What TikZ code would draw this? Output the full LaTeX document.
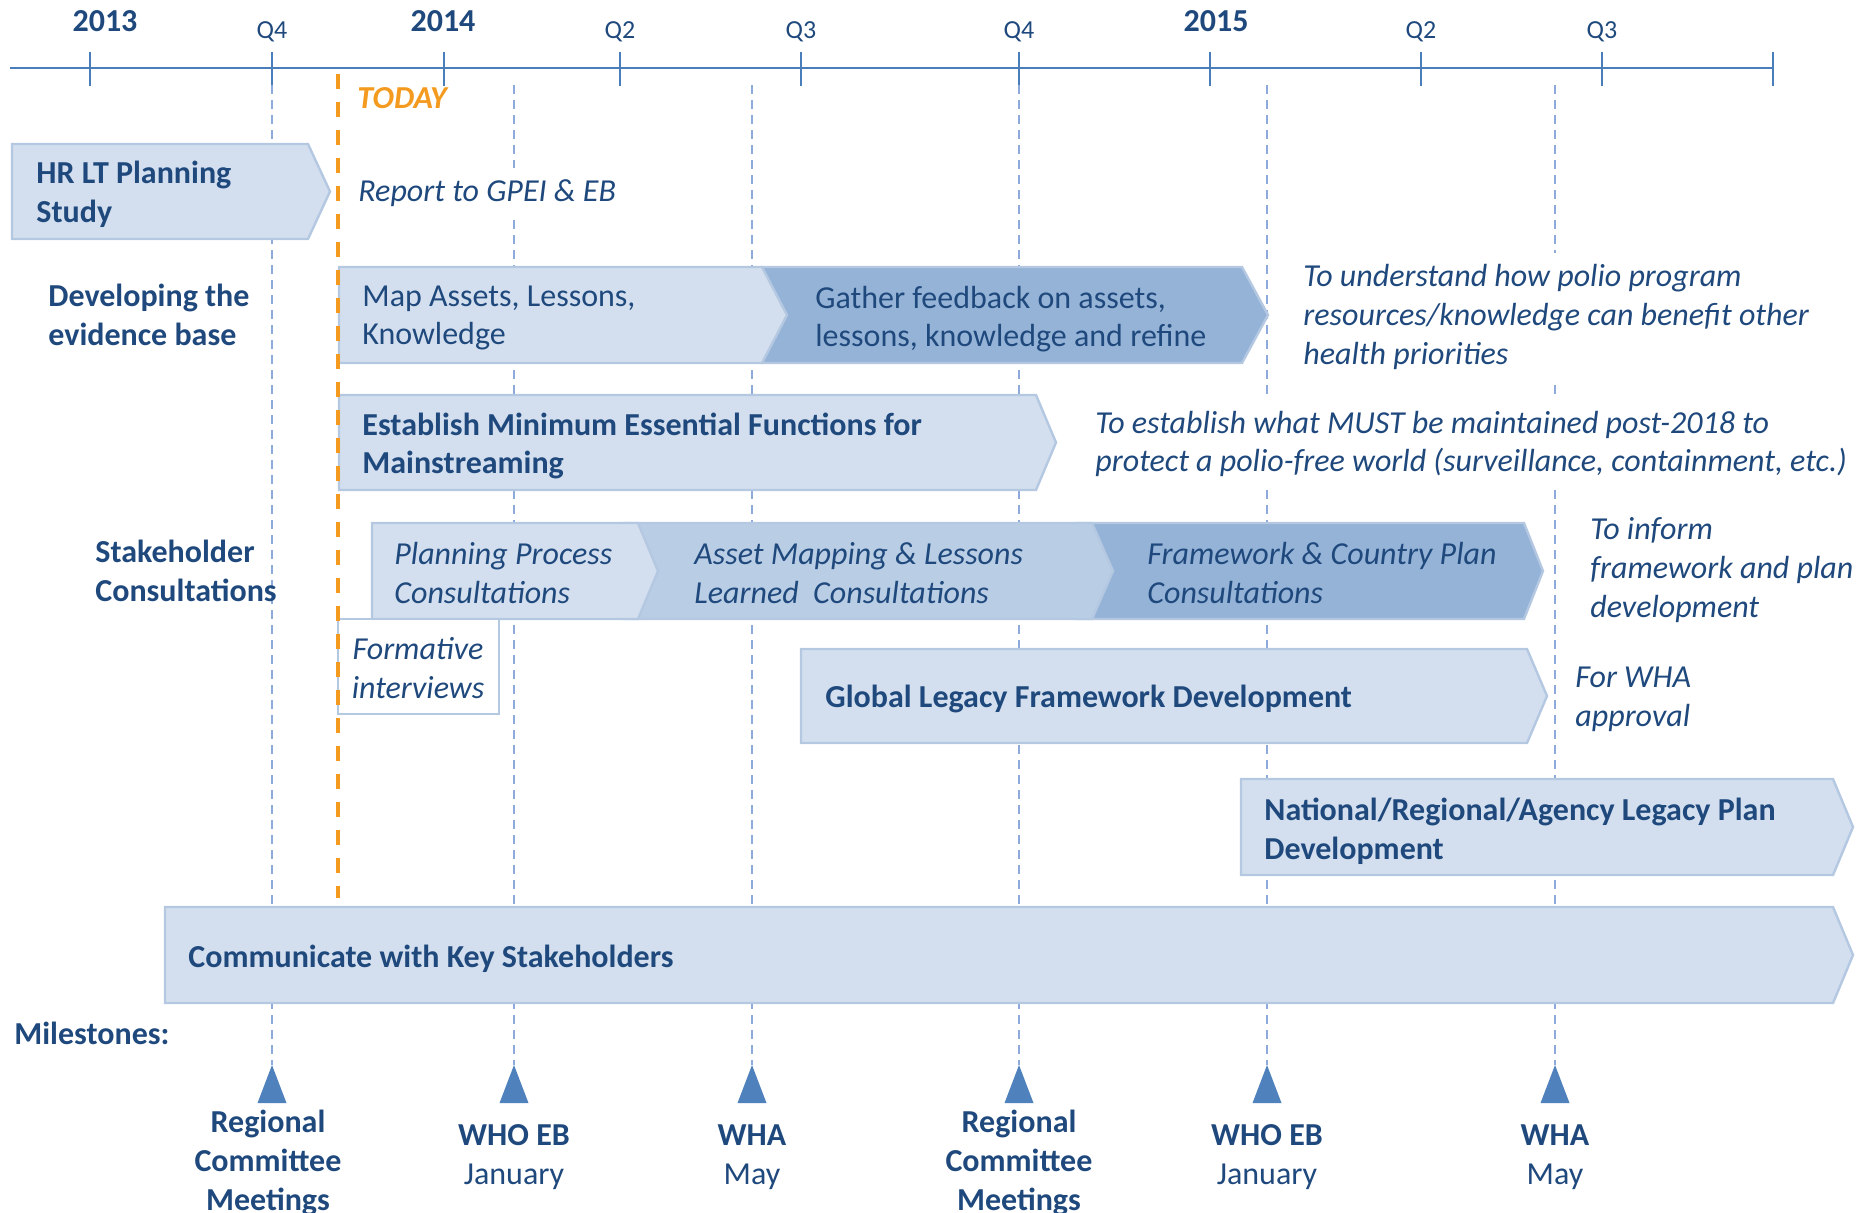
\documentclass[tikz,border=0pt]{standalone}
\usepackage{fontspec}
\setmainfont{Carlito}
\usepackage{tikz}
\usetikzlibrary{calc}

\definecolor{txtblue}{HTML}{1F497D}
\definecolor{axisblue}{HTML}{4A7EBB}
\definecolor{gridblue}{HTML}{8EAADB}
\definecolor{barlight}{HTML}{D3DFEE}
\definecolor{barmid}{HTML}{B9CDE5}
\definecolor{bardark}{HTML}{95B3D7}
\definecolor{barline}{HTML}{B4C8E2}
\definecolor{todayorange}{HTML}{F39A1F}
\definecolor{markblue}{HTML}{4F81BD}

% bar with a pointed right end: style, x left, x end of body, x tip, y top, y bottom
\newcommand{\phasebar}[6]{%
  \path[#1] (#2,#5) -- (#3,#5) -- (#4,{(#5+#6)/2}) -- (#3,#6) -- (#2,#6) -- cycle;}

\begin{document}
\begin{tikzpicture}[x=0.5pt, y=-0.5pt,
	font=\fontsize{16}{19.3}\selectfont,
	every node/.style={text=txtblue, inner sep=0pt},
	bar/.style={fill=barlight, draw=barline, line width=1.2pt},
	bartext/.style={anchor=west, align=left},
	strong/.style={font=\fontsize{16}{19.3}\selectfont\bfseries},
	slant/.style={font=\fontsize{16}{19.3}\selectfont\itshape},
	note/.style={anchor=west, align=left, slant, fill=white, inner sep=6pt},
	year/.style={font=\fontsize{16}{19.3}\selectfont\bfseries},
	quarter/.style={font=\fontsize{13}{15}\selectfont},
	gridline/.style={draw=gridblue, line width=1pt, dash pattern=on 4.5pt off 3pt},
	todayline/.style={draw=todayorange, line width=1.6pt, dash pattern=on 7.5pt off 6.5pt}]
	\useasboundingbox (0,0) rectangle (1866,1212);

	% time axis
	\draw[axisblue, line width=1.3pt] (10,68) -- (1773,68);
	\foreach \x in {90,272,444,620,801,1019,1210,1421,1602,1773}
		\draw[axisblue, line width=0.8pt] (\x,52) -- (\x,86);
	\node[year] (y2013) at (105,21) {2013};
	\node[year] (y2014) at (443,21) {2014};
	\node[year] (y2015) at (1216,21) {2015};
	\foreach \x/\q in {272/Q4,620/Q2,801/Q3,1019/Q4,1421/Q2,1602/Q3}
		\node[quarter] at (\x,32) {\q};

	% milestone guides and markers
	\foreach \x in {272,514,752,1019,1267,1555} {
		\draw[gridline] (\x,85) -- (\x,1065);
		\fill[markblue] (\x,1065) -- (\x+14.5,1103) -- (\x-14.5,1103) -- cycle;
	}

	% bars
	\phasebar{bar}{12}{308}{330}{144}{239}
	\phasebar{bar, fill=bardark}{762}{1242}{1268}{267}{363}
	\phasebar{bar}{339}{762}{787}{267}{363}
	\phasebar{bar}{339}{1036}{1056}{395}{490}
	\phasebar{bar, fill=bardark}{1077}{1524}{1543}{523}{619}
	\phasebar{bar, fill=barmid}{624}{1092}{1113}{523}{619}
	\phasebar{bar}{372}{638}{658}{523}{619}
	\draw[barline, line width=1.2pt, fill=white] (338,619) rectangle (499,714);
	\phasebar{bar}{801}{1527}{1547}{649}{743}
	\phasebar{bar}{1241}{1833}{1853}{779}{875}
	\phasebar{bar}{165}{1833}{1853}{907}{1003}

	% bar texts
	\node[bartext, strong] (hrlt) at (36,194) {HR LT Planning\\Study};
	\node[bartext] (mapassets) at (362,318) {Map Assets, Lessons,\\Knowledge};
	\node[bartext] (gather) at (815,319) {Gather feedback on assets,\\lessons, knowledge and refine};
	\node[bartext, strong] (mef) at (362,446) {Establish Minimum Essential Functions for\\Mainstreaming};
	\node[bartext, slant] (ppc) at (394,573) {Planning Process\\Consultations};
	\node[bartext, slant] (amc) at (694,573) {Asset Mapping \& Lessons\\Learned~ Consultations};
	\node[bartext, slant] (fcc) at (1147,573) {Framework \& Country Plan\\Consultations};
	\node[slant, align=center] (formative) at (418,668) {Formative\\interviews};
	\node[bartext, strong] (glf) at (825,699) {Global Legacy Framework Development};
	\node[bartext, strong] (nrap) at (1264,831) {National/Regional/Agency Legacy Plan\\Development};
	\node[bartext, strong] (comm) at (188,959) {Communicate with Key Stakeholders};

	% notes beside the bars
	\node[note] (report) at (346,193) {Report to GPEI \& EB};
	\node[note] (understand) at (1291,317) {To understand how polio program\\resources/knowledge can benefit other\\health priorities};
	\node[note] (mustkeep) at (1083,444) {To establish what MUST be maintained post-2018 to\\protect a polio-free world (surveillance, containment, etc.)};
	\node[note] (inform) at (1578,570) {To inform\\framework and plan\\development};
	\node[note] (approval) at (1563,699) {For WHA\\approval};

	% row labels
	\node[bartext, strong] (evidence) at (48,315) {Developing the\\evidence base};
	\node[bartext, strong] (consult) at (95,571) {Stakeholder\\Consultations};
	\node[bartext, strong] (milestones) at (14,1033) {Milestones:};

	% today
	\draw[todayline] (338,74) -- (338,898);
	\node[anchor=west, text=todayorange, font=\fontsize{16}{19.3}\selectfont\bfseries\itshape] (today) at (357,98) {TODAY};

	% milestone labels
	\node[strong, align=center] (rc1) at (268,1163) {Regional\\Committee\\Meetings};
	\node[align=center] (eb1) at (514,1157) {\textbf{WHO EB}\\January};
	\node[align=center] (wha1) at (752,1157) {\textbf{WHA}\\May};
	\node[strong, align=center] (rc2) at (1019,1163) {Regional\\Committee\\Meetings};
	\node[align=center] (eb2) at (1267,1157) {\textbf{WHO EB}\\January};
	\node[align=center] (wha2) at (1555,1157) {\textbf{WHA}\\May};
\end{tikzpicture}
\end{document}
